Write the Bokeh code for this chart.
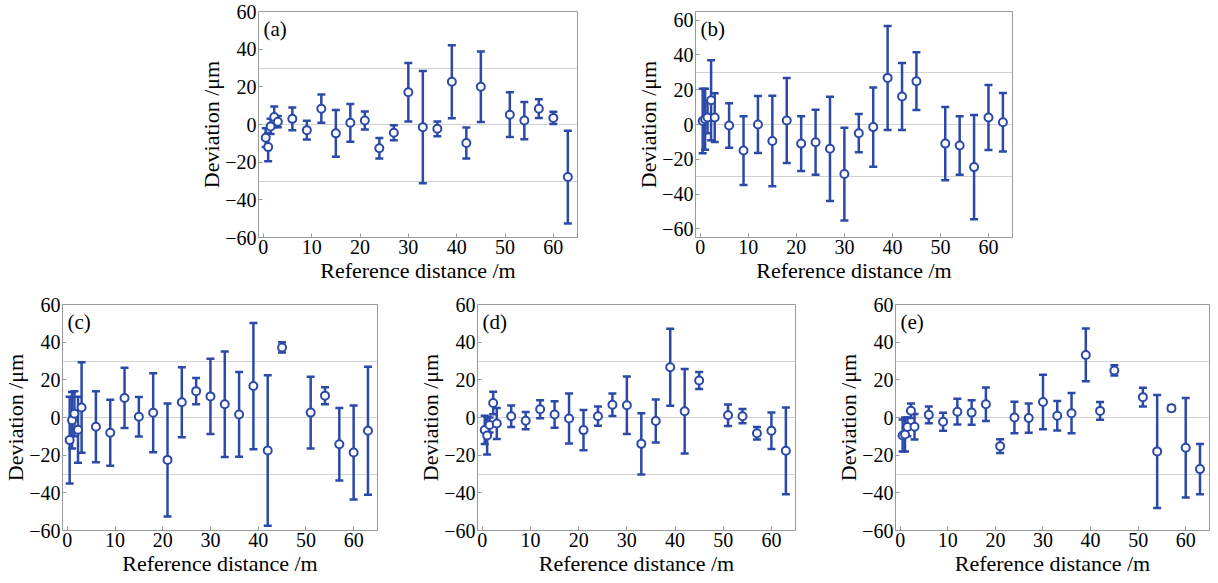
from bokeh.plotting import figure
from bokeh.layouts import row, column, Spacer
from bokeh.models import (ColumnDataSource, Whisker, TeeHead, Range1d,
                          FixedTicker, Label)
from bokeh.embed import file_html
from bokeh.resources import INLINE

# ---------------- data ----------------
DIST = [0.5, 1, 1.5, 2.25, 3, 6, 9, 12, 15, 18, 21, 24, 27, 30, 33, 36,
        39, 42, 45, 51, 54, 57, 60, 63]

dev_a = [-7, -12, -1, 4, 1.5, 3, -3, 8.4, -4.7, 0.9, 2.1, -12.6, -4.4, 17.1,
         -1.4, -2.3, 22.7, -9.8, 20, 5.2, 2.1, 8.4, 3.5, -27.9]
err_a = [5, 7.5, 4, 5.5, 3, 6, 5, 7.5, 12.4, 10, 4.8, 5.4, 4, 15.5, 29.8,
         3.9, 19.4, 8.2, 18.7, 11.9, 9.9, 5, 3.3, 24.6]

dev_b = [2, 3, 4, 14, 4, -0.6, -15, 0, -9.5, 2.3, -11, -10.2, -14, -28.5,
         -5, -1.5, 26.8, 16.1, 24.9, -11, -12.1, -24.5, 4, 1.3]
err_b = [18.5, 17.5, 9, 23, 14, 12.8, 19.8, 16.4, 26, 24.5, 15.7, 18.7, 30,
         26.7, 11, 22.8, 29.9, 19.3, 16.6, 21, 16.8, 30, 18.7, 16.8]

dev_c = [-12, -1.5, 2, -6.5, 5.3, -4.9, -8.1, 10.4, 0.4, 2.5, -22.5, 8.1, 14,
         11.2, 7, 1.6, 16.7, -17.5, 37.2, 2.6, 11.6, -14.2, -18.6, -7]
err_c = [23, 15, 12, 17.5, 24, 18.8, 17.5, 16, 10.5, 21, 30, 18.6, 7, 20, 28,
         22.5, 33.5, 40, 2.7, 19, 4.5, 19.2, 25, 34]

dev_d = [-6.6, -9.6, -4, 7.7, -3.2, 0.7, -1.7, 4.4, 1.6, -0.5, -6.7, 0.7, 6.8,
         6.5, -14, -1.9, 26.7, 3.3, 19.6, 1.2, 0.7, -8.4, -7, -17.7]
err_d = [7.5, 10, 4, 6, 8.2, 5.7, 4.6, 4.8, 7, 13.3, 10.7, 5.1, 6, 15.3, 16.3,
         11.4, 20.4, 22.4, 4.5, 5.7, 3.8, 3.3, 9.7, 23]

dev_e = [-9.6, -9, -5, 3.6, -4.9, 1.4, -2.3, 3.1, 2.6, 7, -15.2, 0, -0.3, 8.2,
         0.9, 2.3, 33.2, 3.5, 25, 10.8, -18, 4.9, -16.1, -27.4]
err_e = [8.5, 9, 5, 3.8, 6.8, 4.5, 4.8, 6.8, 6.5, 8.9, 3.6, 8.4, 7.8, 14.5,
         7.8, 10.7, 14, 4.7, 2.7, 5, 30, 1.5, 26.4, 13.3]

X_TICKS = [0, 10, 20, 30, 40, 50, 60]
Y_TICKS = [-60, -40, -20, 0, 20, 40, 60]
GRID_Y = [-30, 0, 30]
X_LABEL = "Reference distance /m"
Y_LABEL = "Deviation /\u03bcm"

# ---------------- style ----------------
BLUE = "#2b49a8"
GRAY = "#9a9a9a"
FONT = "'Liberation Serif'"
FH = 226


def make_panel(tag, dev, err, yr, fw, left, right, top, bottom):
    p = figure(frame_width=fw, frame_height=FH,
               x_range=Range1d(-1, 65), y_range=Range1d(yr[0], yr[1]),
               output_backend="svg", toolbar_location=None,
               min_border_left=left, min_border_right=right,
               min_border_top=top, min_border_bottom=bottom)
    p.outline_line_color = GRAY
    p.outline_line_width = 1
    p.xgrid.visible = False
    p.ygrid.ticker = FixedTicker(ticks=GRID_Y)
    p.ygrid.grid_line_color = "#d2d2d2"
    p.ygrid.grid_line_width = 1

    for ax, ticks in ((p.xaxis[0], X_TICKS), (p.yaxis[0], Y_TICKS)):
        ax.ticker = FixedTicker(ticks=ticks)
        ax.major_label_overrides = {t: (("\u2212" + str(-t)) if t < 0 else str(t))
                                    for t in ticks}
        ax.axis_line_color = GRAY
        ax.major_tick_line_color = GRAY
        ax.major_tick_in = 4
        ax.major_tick_out = 0
        ax.minor_tick_line_color = None
        ax.major_label_text_font = FONT
        ax.major_label_text_font_size = "20px"
        ax.major_label_text_color = "black"
        ax.axis_label_text_font = FONT
        ax.axis_label_text_font_size = "22px"
        ax.axis_label_text_font_style = "normal"
        ax.axis_label_text_color = "black"
    p.xaxis.axis_label = X_LABEL
    p.yaxis.axis_label = Y_LABEL
    p.xaxis.major_label_standoff = 2
    p.xaxis.axis_label_standoff = 1
    p.yaxis.major_label_standoff = 2
    p.yaxis.axis_label_standoff = -2

    lower = [d - e for d, e in zip(dev, err)]
    upper = [d + e for d, e in zip(dev, err)]
    src = ColumnDataSource(data=dict(x=DIST, y=dev, lower=lower, upper=upper))
    w = Whisker(source=src, base="x", lower="lower", upper="upper",
                line_color=BLUE, line_width=2.5,
                lower_head=TeeHead(size=8, line_color=BLUE, line_width=2.5),
                upper_head=TeeHead(size=8, line_color=BLUE, line_width=2.5))
    p.add_layout(w)
    p.scatter("x", "y", source=src, marker="circle", size=8,
              line_color=BLUE, line_width=2, fill_color="white")

    p.add_layout(Label(x=-1, y=yr[1], x_offset=5, y_offset=-5, text=tag,
                       text_baseline="top", text_align="left",
                       text_font=FONT, text_font_size="21px",
                       text_color="black"))
    return p


TOP = 11
B1 = 56
pa = make_panel("(a)", dev_a, err_a, (-60, 60), 319, 58, 56, TOP, B1)
pb = make_panel("(b)", dev_b, err_b, (-65, 65), 317, 58, 10, TOP, B1)
pc = make_panel("(c)", dev_c, err_c, (-60, 60), 315, 58, 38, TOP, 41)
pd_ = make_panel("(d)", dev_d, err_d, (-60, 60), 318, 58, 38, TOP, 41)
pe = make_panel("(e)", dev_e, err_e, (-60, 60), 314, 58, 5, TOP, 41)

layout = column(row(Spacer(width=196, height=TOP + FH + B1), pa, pb),
                row(pc, pd_, pe))

open("out.html", "w").write(file_html(layout, INLINE))
